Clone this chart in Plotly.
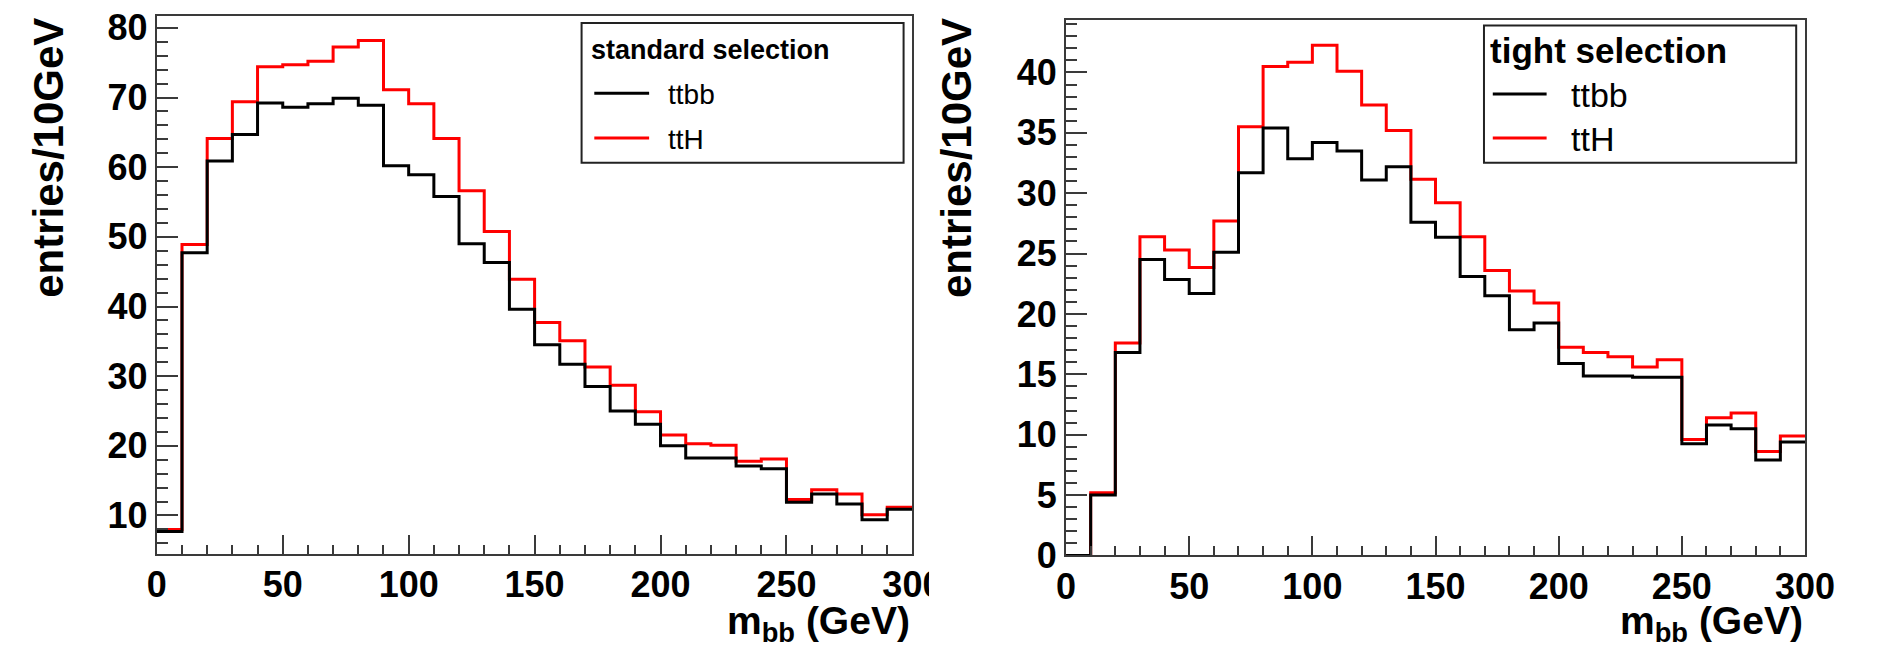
import plotly.graph_objects as go

# m_bb histograms, 10 GeV bins from 0 to 300 GeV
bin_edges = list(range(0, 310, 10))

std_ttbb = [7.7, 47.7, 60.9, 64.7, 69.2, 68.6, 69.1, 69.9, 68.9, 60.2,
            58.9, 55.8, 49.0, 46.3, 39.6, 34.5, 31.7, 28.5, 25.0, 23.1,
            20.0, 18.25, 18.25, 17.1, 16.7, 11.9, 13.1, 11.65, 9.4, 10.9]
std_tth = [8.0, 48.9, 64.1, 69.4, 74.4, 74.7, 75.2, 77.25, 78.2, 71.1,
           69.1, 64.1, 56.6, 50.75, 43.9, 37.7, 35.1, 31.3, 28.7, 24.9,
           21.55, 20.3, 20.1, 17.8, 18.1, 12.3, 13.7, 13.1, 10.1, 11.2]

tight_ttbb = [0.0, 5.0, 16.8, 24.5, 22.85, 21.7, 25.1, 31.7, 35.4, 32.85,
              34.2, 33.5, 31.1, 32.2, 27.6, 26.35, 23.1, 21.5, 18.7, 19.25,
              15.9, 14.86, 14.86, 14.75, 14.75, 9.25, 10.8, 10.5, 7.9, 9.4]
tight_tth = [0.0, 5.2, 17.6, 26.4, 25.3, 23.85, 27.7, 35.5, 40.5, 40.85,
             42.25, 40.1, 37.3, 35.2, 31.15, 29.2, 26.4, 23.6, 21.9, 20.9,
             17.25, 16.8, 16.45, 15.6, 16.2, 9.6, 11.4, 11.8, 8.6, 9.9]

panel_titles = ["standard selection", "tight selection"]
series_names = ["ttbb", "ttH"]
x_title = "m<sub>bb</sub> (GeV)"
y_title = "entries/10GeV"

W, H = 1881, 667
FONT = "Liberation Sans"
FRAME = "#3a3a3a"
MARGIN = 0.05  # headroom above/below the first-drawn histogram


def px(x):
    return x / W


def py(y):
    return 1 - y / H


def auto_range(values):
    lo, hi = min(values), max(values)
    span = hi - lo
    lo2 = lo - MARGIN * span
    if lo >= 0 and lo2 < 0:
        lo2 = 0
    return [lo2, hi + MARGIN * span]


def step_trace(values, color, xa, ya):
    xs = bin_edges[:-1] + [bin_edges[-1]]
    ys = values + [values[-1]]
    return go.Scatter(x=xs, y=ys, mode="lines", line=dict(color=color, width=3, shape="hv"),
                      xaxis=xa, yaxis=ya, showlegend=False, hoverinfo="skip")


fig = go.Figure()
# signal first, background drawn on top
fig.add_trace(step_trace(std_tth, "#ff0000", "x", "y"))
fig.add_trace(step_trace(std_ttbb, "#000000", "x", "y"))
fig.add_trace(step_trace(tight_tth, "#ff0000", "x2", "y2"))
fig.add_trace(step_trace(tight_ttbb, "#000000", "x2", "y2"))

tickfont = dict(family=FONT, size=36, color="black", weight="bold")


def xaxis_cfg(domain, anchor):
    return dict(domain=domain, anchor=anchor, range=[0, 300], showline=True, mirror=True,
                linecolor=FRAME, linewidth=2, ticks="inside", ticklen=19, tickwidth=1.5,
                tickcolor=FRAME, tick0=0, dtick=50, showgrid=False, zeroline=False,
                ticklabelstandoff=-2,
                minor=dict(ticks="inside", dtick=10, ticklen=9, tickwidth=1.5, tickcolor=FRAME),
                tickfont=tickfont)


def yaxis_cfg(domain, anchor, rng, dtick, minor_dtick):
    return dict(domain=domain, anchor=anchor, range=rng, showline=True, mirror=True,
                linecolor=FRAME, linewidth=2, ticks="inside", ticklen=21, tickwidth=1.5,
                tickcolor=FRAME, tick0=0, dtick=dtick, showgrid=False, zeroline=False,
                minor=dict(ticks="inside", dtick=minor_dtick, ticklen=11, tickwidth=1.5,
                           tickcolor=FRAME),
                tickfont=tickfont)


# panel frames in pixels: (left, top, right, bottom)
left_frame = (150, 8.3, 922, 570.7)
right_frame = (1079, 12.3, 1834, 572.3)

fig.update_layout(
    width=W, height=H, margin=dict(l=0, r=0, t=0, b=0),
    paper_bgcolor="white", plot_bgcolor="white",
    xaxis=xaxis_cfg([px(left_frame[0]), px(left_frame[2])], "y"),
    yaxis=yaxis_cfg([py(left_frame[3]), py(left_frame[1])], "x", auto_range(std_tth), 10, 2),
    xaxis2=xaxis_cfg([px(right_frame[0]), px(right_frame[2])], "y2"),
    yaxis2=yaxis_cfg([py(right_frame[3]), py(right_frame[1])], "x2", auto_range(tight_tth), 5, 1),
)

annotations = []
shapes = []

# axis titles
for frame, ytx in ((left_frame, 39), (right_frame, 967)):
    annotations.append(dict(xref="paper", yref="paper", x=px(frame[2]), y=py(671),
                            xanchor="right", yanchor="bottom", showarrow=False,
                            text=x_title,
                            font=dict(family=FONT, size=39, color="black", weight="bold")))
    annotations.append(dict(xref="paper", yref="paper", x=px(ytx), y=py(8),
                            xanchor="center", yanchor="top", showarrow=False, textangle=-90,
                            text=y_title,
                            font=dict(family=FONT, size=42, color="black", weight="bold")))

# legend boxes
legends = [
    dict(box=(584, 15.7, 913, 161.7), title_x=592, title_y=44, title_size=27,
         line_x=(597, 653), rows_y=(89, 136), label_x=670, label_size=28),
    dict(box=(1506, 18.3, 1825, 161.7), title_x=1510, title_y=44, title_size=35,
         line_x=(1515, 1570), rows_y=(90, 136), label_x=1593, label_size=34),
]
colors = ["#000000", "#ff0000"]
for title, lg in zip(panel_titles, legends):
    bx = lg["box"]
    shapes.append(dict(type="rect", xref="paper", yref="paper",
                       x0=px(bx[0]), x1=px(bx[2]), y0=py(bx[3]), y1=py(bx[1]),
                       line=dict(color="#222222", width=2), fillcolor="white", layer="above"))
    annotations.append(dict(xref="paper", yref="paper", x=px(lg["title_x"]), y=py(lg["title_y"]),
                            xanchor="left", yanchor="middle", showarrow=False,
                            text=title,
                            font=dict(family=FONT, size=lg["title_size"], color="black",
                                      weight="bold")))
    for name, col, ry in zip(series_names, colors, lg["rows_y"]):
        shapes.append(dict(type="line", xref="paper", yref="paper",
                           x0=px(lg["line_x"][0]), x1=px(lg["line_x"][1]), y0=py(ry), y1=py(ry),
                           line=dict(color=col, width=3), layer="above"))
        annotations.append(dict(xref="paper", yref="paper", x=px(lg["label_x"]), y=py(ry + 1),
                                xanchor="left", yanchor="middle", showarrow=False, text=name,
                                font=dict(family=FONT, size=lg["label_size"], color="black")))

# the left canvas ends just right of its last tick label
shapes.append(dict(type="rect", xref="paper", yref="paper", x0=px(939), x1=px(958),
                   y0=py(625), y1=py(575), line=dict(width=0), fillcolor="white", layer="above"))

fig.update_layout(annotations=annotations, shapes=shapes)
fig.write_html("out.html")
